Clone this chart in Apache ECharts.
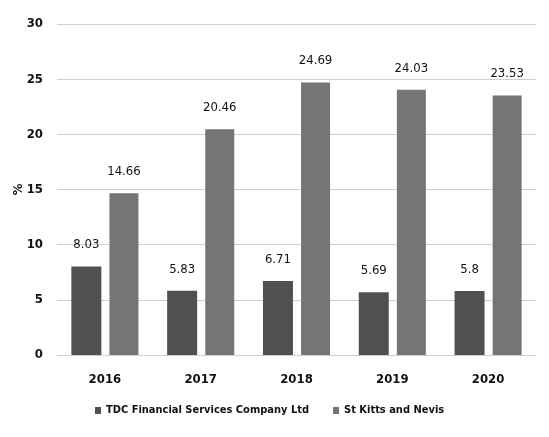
<!DOCTYPE html>
<html>
<head>
<meta charset="utf-8">
<script src="https://cdn.jsdelivr.net/npm/echarts@6/dist/echarts.min.js"></script>
<style>
  html, body { margin: 0; padding: 0; background: #fff; }
  #chart { width: 549px; height: 437px; }
</style>
</head>
<body>
<div id="chart"></div>
<script>
const years = ['2016', '2017', '2018', '2019', '2020'];
const tdc = [8.03, 5.83, 6.71, 5.69, 5.8];
const stKitts = [14.66, 20.46, 24.69, 24.03, 23.53];

const font = '"DejaVu Sans Condensed", "Liberation Sans Narrow", sans-serif';

const chart = echarts.init(document.getElementById('chart'));

const labelStyle = {
  show: true,
  position: 'top',
  distance: 15,
  color: '#111',
  fontFamily: font,
  fontSize: 13,
};

chart.setOption({
  animation: false,
  textStyle: { fontFamily: font },
  grid: { left: 57, right: 13, top: 24, bottom: 82, outerBoundsMode: 'none' },
  legend: {
    bottom: 16,
    left: 90,
    itemWidth: 6,
    itemHeight: 7,
    itemGap: 24,
    icon: 'rect',
    textStyle: { fontFamily: font, fontSize: 11, fontWeight: 'bold', color: '#111' },
    data: ['TDC Financial Services Company Ltd', 'St Kitts and Nevis'],
  },
  xAxis: {
    type: 'category',
    data: years,
    axisLine: { show: false },
    axisTick: { show: false },
    axisLabel: { margin: 18, color: '#111', fontSize: 13, fontWeight: 'bold', fontFamily: font },
  },
  yAxis: {
    type: 'value',
    min: 0,
    max: 30,
    interval: 5,
    name: '%',
    nameLocation: 'middle',
    nameGap: 32,
    nameRotate: 90,
    nameMoveOverlap: false,
    nameTextStyle: { color: '#111', fontSize: 13, fontWeight: 'bold', fontFamily: font },
    axisLine: { show: false },
    axisTick: { show: false },
    axisLabel: { margin: 14, color: '#111', fontSize: 13, fontWeight: 'bold', fontFamily: font },
    splitLine: { lineStyle: { color: '#cfcfcf', width: 1 } },
  },
  series: [
    {
      name: 'TDC Financial Services Company Ltd',
      type: 'bar',
      data: tdc,
      barWidth: 30,
      barGap: '27%',
      itemStyle: { color: '#505050' },
      label: labelStyle,
    },
    {
      name: 'St Kitts and Nevis',
      type: 'bar',
      data: stKitts,
      barWidth: 29,
      itemStyle: { color: '#757575' },
      label: labelStyle,
    },
  ],
});
</script>
</body>
</html>
